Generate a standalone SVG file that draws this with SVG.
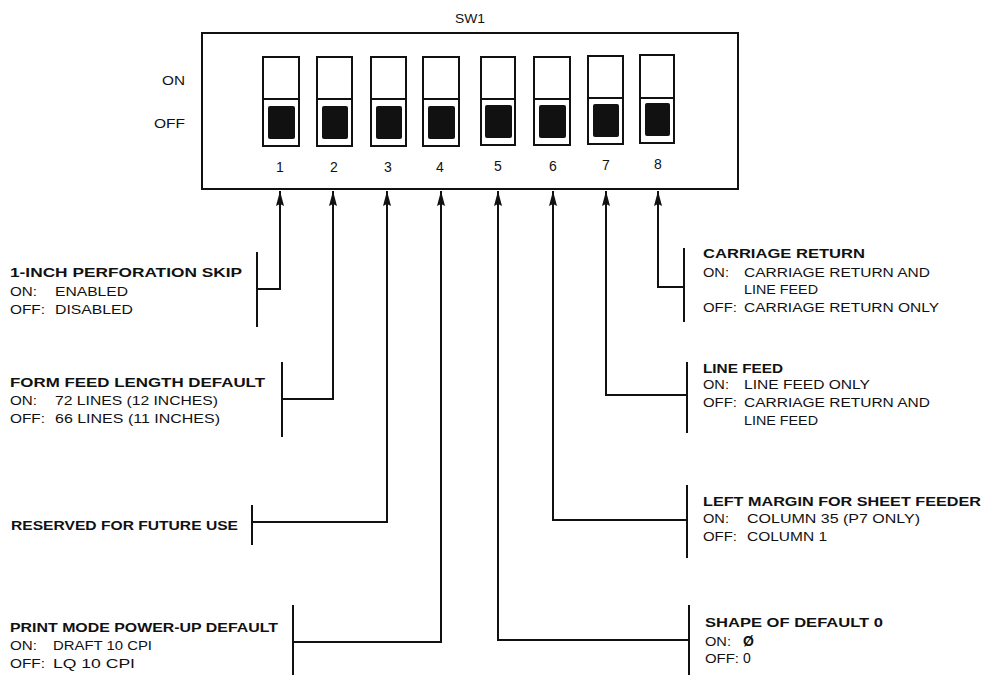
<svg xmlns="http://www.w3.org/2000/svg" width="994" height="675" viewBox="0 0 994 675">
<defs>
<style>
text{font-family:"Liberation Sans",Arial,sans-serif;font-size:12px;fill:#111}
.b{font-weight:bold}
.ln{fill:none;stroke:#111;stroke-width:2}
.sw{fill:#fff;stroke:#111;stroke-width:2}
.blk{fill:#111;stroke:none}
.num{text-anchor:middle;font-size:14px}
</style>
<marker id="arr" markerUnits="userSpaceOnUse" markerWidth="10" markerHeight="18" viewBox="0 0 10 18" refX="5" refY="1" orient="0">
<path d="M5,1 L9,16 L5,14 L1,16 Z" fill="#111"/>
</marker>
</defs>
<rect width="994" height="675" fill="#fff"/>

<g id="switch-block">
<text x="470" y="23" text-anchor="middle" textLength="30" lengthAdjust="spacingAndGlyphs">SW1</text>
<rect x="202" y="33" width="536" height="156" class="ln"/>
<text x="185" y="85" text-anchor="end" textLength="23" lengthAdjust="spacingAndGlyphs">ON</text>
<text x="185" y="128" text-anchor="end" textLength="31" lengthAdjust="spacingAndGlyphs">OFF</text>
<g id="s1"><rect x="263" y="57" width="36" height="89" class="sw"/><line x1="263" y1="99" x2="299" y2="99" class="ln"/><rect x="268" y="106" width="27" height="33" rx="2" class="blk"/><text x="280" y="172" class="num">1</text></g>
<g id="s2"><rect x="317" y="57" width="35" height="89" class="sw"/><line x1="317" y1="99" x2="352" y2="99" class="ln"/><rect x="322" y="106" width="26" height="33" rx="2" class="blk"/><text x="334" y="172" class="num">2</text></g>
<g id="s3"><rect x="371" y="57" width="35" height="89" class="sw"/><line x1="371" y1="99" x2="406" y2="99" class="ln"/><rect x="376" y="106" width="26" height="33" rx="2" class="blk"/><text x="388" y="172" class="num">3</text></g>
<g id="s4"><rect x="423" y="57" width="36" height="89" class="sw"/><line x1="423" y1="99" x2="459" y2="99" class="ln"/><rect x="428" y="106" width="27" height="33" rx="2" class="blk"/><text x="440" y="172" class="num">4</text></g>
<g id="s5"><rect x="481" y="57" width="34" height="88" class="sw"/><line x1="481" y1="99" x2="515" y2="99" class="ln"/><rect x="485" y="105" width="27" height="33" rx="2" class="blk"/><text x="498" y="171" class="num">5</text></g>
<g id="s6"><rect x="534" y="57" width="36" height="88" class="sw"/><line x1="534" y1="99" x2="570" y2="99" class="ln"/><rect x="539" y="105" width="27" height="33" rx="2" class="blk"/><text x="553" y="171" class="num">6</text></g>
<g id="s7"><rect x="588" y="56" width="35" height="88" class="sw"/><line x1="588" y1="98" x2="623" y2="98" class="ln"/><rect x="593" y="104" width="26" height="33" rx="2" class="blk"/><text x="606" y="170" class="num">7</text></g>
<g id="s8"><rect x="640" y="55" width="34" height="88" class="sw"/><line x1="640" y1="98" x2="674" y2="98" class="ln"/><rect x="645" y="103" width="25" height="33" rx="2" class="blk"/><text x="658" y="169" class="num">8</text></g>
</g>

<g id="connectors">
<path d="M257,289 H280 V191" class="ln" marker-end="url(#arr)"/>
<path d="M282,399 H333 V191" class="ln" marker-end="url(#arr)"/>
<path d="M252,522 H387 V191" class="ln" marker-end="url(#arr)"/>
<path d="M293,642 H441 V191" class="ln" marker-end="url(#arr)"/>
<path d="M689,640 H498 V191" class="ln" marker-end="url(#arr)"/>
<path d="M687,520 H553 V191" class="ln" marker-end="url(#arr)"/>
<path d="M687,395 H606 V191" class="ln" marker-end="url(#arr)"/>
<path d="M684,287 H658 V191" class="ln" marker-end="url(#arr)"/>
</g>

<g id="n1">
<line x1="257" y1="252" x2="257" y2="327" class="ln"/>
<text x="10" y="277" class="b" textLength="232" lengthAdjust="spacingAndGlyphs">1-INCH PERFORATION SKIP</text>
<text x="10" y="296" textLength="27" lengthAdjust="spacingAndGlyphs">ON:</text>
<text x="55" y="296" textLength="73" lengthAdjust="spacingAndGlyphs">ENABLED</text>
<text x="10" y="314" textLength="35" lengthAdjust="spacingAndGlyphs">OFF:</text>
<text x="55" y="314" textLength="78" lengthAdjust="spacingAndGlyphs">DISABLED</text>
</g>

<g id="n2">
<line x1="282" y1="362" x2="282" y2="437" class="ln"/>
<text x="10" y="387" class="b" textLength="255" lengthAdjust="spacingAndGlyphs">FORM FEED LENGTH DEFAULT</text>
<text x="10" y="405" textLength="27" lengthAdjust="spacingAndGlyphs">ON:</text>
<text x="55" y="405" textLength="163" lengthAdjust="spacingAndGlyphs">72 LINES (12 INCHES)</text>
<text x="10" y="423" textLength="35" lengthAdjust="spacingAndGlyphs">OFF:</text>
<text x="55" y="423" textLength="165" lengthAdjust="spacingAndGlyphs">66 LINES (11 INCHES)</text>
</g>

<g id="n3">
<line x1="252" y1="505" x2="252" y2="545" class="ln"/>
<text x="11" y="530" class="b" textLength="227" lengthAdjust="spacingAndGlyphs">RESERVED FOR FUTURE USE</text>
</g>

<g id="n4">
<line x1="293" y1="605" x2="293" y2="675" class="ln"/>
<text x="10" y="632" class="b" textLength="268" lengthAdjust="spacingAndGlyphs">PRINT MODE POWER-UP DEFAULT</text>
<text x="10" y="650" textLength="27" lengthAdjust="spacingAndGlyphs">ON:</text>
<text x="53" y="650" textLength="99" lengthAdjust="spacingAndGlyphs">DRAFT 10 CPI</text>
<text x="10" y="668" textLength="35" lengthAdjust="spacingAndGlyphs">OFF:</text>
<text x="53" y="668" textLength="82" lengthAdjust="spacingAndGlyphs">LQ 10 CPI</text>
</g>

<g id="n8">
<line x1="684" y1="248" x2="684" y2="322" class="ln"/>
<text x="703" y="258" class="b" textLength="162" lengthAdjust="spacingAndGlyphs">CARRIAGE RETURN</text>
<text x="703" y="277" textLength="26" lengthAdjust="spacingAndGlyphs">ON:</text>
<text x="744" y="277" textLength="186" lengthAdjust="spacingAndGlyphs">CARRIAGE RETURN AND</text>
<text x="744" y="294" textLength="74" lengthAdjust="spacingAndGlyphs">LINE FEED</text>
<text x="703" y="312" textLength="34" lengthAdjust="spacingAndGlyphs">OFF:</text>
<text x="744" y="312" textLength="195" lengthAdjust="spacingAndGlyphs">CARRIAGE RETURN ONLY</text>
</g>

<g id="n7">
<line x1="687" y1="362" x2="687" y2="433" class="ln"/>
<text x="703" y="373" class="b" textLength="80" lengthAdjust="spacingAndGlyphs">LINE FEED</text>
<text x="703" y="389" textLength="26" lengthAdjust="spacingAndGlyphs">ON:</text>
<text x="744" y="389" textLength="126" lengthAdjust="spacingAndGlyphs">LINE FEED ONLY</text>
<text x="703" y="407" textLength="34" lengthAdjust="spacingAndGlyphs">OFF:</text>
<text x="744" y="407" textLength="186" lengthAdjust="spacingAndGlyphs">CARRIAGE RETURN AND</text>
<text x="744" y="425" textLength="74" lengthAdjust="spacingAndGlyphs">LINE FEED</text>
</g>

<g id="n6">
<line x1="687" y1="485" x2="687" y2="558" class="ln"/>
<text x="703" y="506" class="b" textLength="278" lengthAdjust="spacingAndGlyphs">LEFT MARGIN FOR SHEET FEEDER</text>
<text x="703" y="523" textLength="26" lengthAdjust="spacingAndGlyphs">ON:</text>
<text x="747" y="523" textLength="173" lengthAdjust="spacingAndGlyphs">COLUMN 35 (P7 ONLY)</text>
<text x="703" y="541" textLength="34" lengthAdjust="spacingAndGlyphs">OFF:</text>
<text x="747" y="541" textLength="80" lengthAdjust="spacingAndGlyphs">COLUMN 1</text>
</g>

<g id="n5">
<line x1="689" y1="605" x2="689" y2="675" class="ln"/>
<text x="705" y="627" class="b" textLength="178" lengthAdjust="spacingAndGlyphs">SHAPE OF DEFAULT 0</text>
<text x="705" y="646" textLength="26" lengthAdjust="spacingAndGlyphs">ON:</text>
<text x="743" y="646" style="font-size:14px" class="b">Ø</text>
<text x="705" y="663" textLength="34" lengthAdjust="spacingAndGlyphs">OFF:</text>
<text x="743" y="663" style="font-size:14px">0</text>
</g>
</svg>
